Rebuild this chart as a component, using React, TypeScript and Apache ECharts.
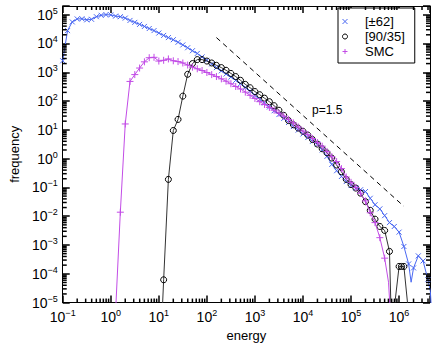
import React, { useEffect, useRef } from 'react';
import * as echarts from 'echarts';

// ---------- data ----------
const seriesNames = ['[±62]', '[90/35]', 'SMC'];

const blueEnergy = [
  0.1, 0.126, 0.158, 0.2, 0.251, 0.316, 0.398, 0.501, 0.631, 0.794,
  1, 1.26, 1.58, 2, 2.51, 3.16, 3.98, 5.01, 6.31, 7.94,
  10, 12.6, 15.8, 20, 25.1, 31.6, 39.8, 50.1, 63.1, 79.4,
  100, 126, 158, 200, 251, 316, 398, 501, 631, 794,
  1e3, 1.26e3, 1.58e3, 2e3, 2.51e3, 3.16e3, 3.98e3, 5.01e3, 6.31e3, 7.94e3,
  1e4, 1.26e4, 1.58e4, 2e4, 2.51e4, 3.16e4, 3.98e4, 5.01e4, 6.31e4, 7.94e4,
  1e5, 1.26e5, 1.58e5, 2e5, 2.51e5, 3.16e5, 3.98e5, 5.01e5, 6.31e5, 7.94e5,
  1e6, 1.26e6, 1.58e6, 1.78e6, 2e6, 2.51e6, 3.16e6, 3.98e6, 4.47e6, 5.01e6,
];
const blueFreq = [
  2.5e3, 2.8e4, 5.6e4, 7.1e4, 7.2e4, 6.6e4, 6.9e4, 8.5e4, 9.5e4, 1.0e5,
  9.8e4, 8.9e4, 8.5e4, 7.6e4, 6.3e4, 5.4e4, 4.6e4, 3.9e4, 3.3e4, 2.8e4,
  2.3e4, 1.9e4, 1.6e4, 1.35e4, 1.1e4, 8.9e3, 7.1e3, 5.6e3, 4.5e3, 3.4e3,
  2.6e3, 1.95e3, 1.45e3, 1.12e3, 870, 680, 525, 400, 295, 220,
  158, 115, 85, 62, 46, 34, 25, 18, 13, 9.8,
  7.2, 5.4, 4.0, 3.2, 2.0, 1.2, 0.63, 0.38, 0.24, 0.16,
  0.117, 0.095, 0.083, 0.072, 0.042, 0.025, 0.018, 0.0105, 0.006, 0.0044,
  0.0028, 8.9e-4, 2.2e-4, 5.1e-5, 1.6e-4, 4.2e-4, 2.8e-4, 6.3e-5, 2.5e-5, 1e-6,
];
const blueUnmarked = [1.78e6, 4.47e6, 5.01e6];

const blackEnergy = [
  10, 12.6, 15.8, 20, 25.1, 31.6, 39.8, 50.1, 63.1, 79.4,
  100, 126, 158, 200, 251, 316, 398, 501, 631, 794,
  1e3, 1.26e3, 1.58e3, 2e3, 2.51e3, 3.16e3, 3.98e3, 5.01e3, 6.31e3, 7.94e3,
  1e4, 1.26e4, 1.58e4, 2e4, 2.51e4, 3.16e4, 3.98e4, 5.01e4, 6.31e4, 7.94e4,
  1e5, 1.26e5, 1.58e5, 2e5, 2.51e5, 3.16e5, 3.98e5, 5.01e5, 6.31e5,
  7.24e5, 8.13e5, 1e6, 1.12e6, 1.26e6, 1.58e6,
];
const blackFreq = [
  1e-8, 6.2e-5, 0.19, 9.5, 23, 148, 850, 2.0e3, 2.75e3, 2.75e3,
  2.45e3, 2.1e3, 1.74e3, 1.45e3, 1.17e3, 910, 710, 525, 380, 290,
  214, 166, 126, 95, 69, 48, 32, 21, 15, 11.5,
  8.9, 6.6, 4.6, 3.2, 2.2, 1.58, 1.05, 0.6, 0.35, 0.19,
  0.126, 0.095, 0.063, 0.032, 0.016, 0.0079, 0.0044, 0.0032, 6e-4,
  1e-7, 8.9e-6, 1.8e-4, 1.8e-4, 1.8e-4, 4e-6,
];
const blackUnmarked = [10, 7.24e5, 8.13e5, 1.58e6];

const smcEnergy = [
  1.26, 1.58, 2, 2.51, 3.16, 3.98, 5.01, 6.31, 7.94,
  10, 12.6, 15.8, 20, 25.1, 31.6, 39.8, 50.1, 63.1, 79.4,
  100, 126, 158, 200, 251, 316, 398, 501, 631, 794,
  1e3, 1.26e3, 1.58e3, 2e3, 2.51e3, 3.16e3, 3.98e3, 5.01e3, 6.31e3, 7.94e3,
  1e4, 1.26e4, 1.58e4, 2e4, 2.51e4, 3.16e4, 3.98e4, 5.01e4, 6.31e4, 7.94e4,
  1e5, 1.26e5, 1.58e5, 2e5, 2.51e5, 3.16e5, 3.98e5, 5.01e5,
  6.03e5, 6.92e5,
];
const smcFreq = [
  5e-6, 0.0138, 16, 480, 830, 1.4e3, 2.3e3, 3.2e3, 3.3e3,
  2.45e3, 2.6e3, 2.9e3, 2.5e3, 2.35e3, 2.1e3, 1.78e3, 1.5e3, 1.32e3, 1.15e3,
  980, 830, 710, 590, 490, 400, 320, 263, 204, 158,
  123, 95, 76, 60, 48, 38, 30, 23, 17.4, 12.6,
  9.1, 6.8, 5.0, 3.6, 2.7, 1.78, 1.17, 0.79, 0.45, 0.23,
  0.15, 0.1, 0.063, 0.034, 0.0132, 0.006, 0.0018, 3.5e-4,
  5.1e-5, 1e-6,
];
const smcUnmarked = [1.26, 6.03e5, 6.92e5];

// power-law guide p = 1.5
const guideEnergy = [158, 1.26e6];
const guideFreq = [1.6e4, 0.022];

const xDecades = [-1, 0, 1, 2, 3, 4, 5, 6];
const yDecades = [-5, -4, -3, -2, -1, 0, 1, 2, 3, 4, 5];
const X_MIN = 0.1, X_MAX = 4.4e6, Y_MIN = 1e-5, Y_MAX = 2e5;

// ---------- styling ----------
const FONT = '"Liberation Sans", Arial, Helvetica, sans-serif';
const BLUE = '#4a68f2';
const MAGENTA = '#c24ce6';
const BLACK = '#000000';
const TICK = '#000';
const X_PATH = 'path://M0,0L10,10M10,0L0,10';
const PLUS_PATH = 'path://M5,0L5,10M0,5L10,5';

function expLabel(v: number) {
  const l = Math.log10(v);
  const e = Math.round(l);
  if (Math.abs(l - e) > 1e-6) return '';
  const s = e < 0 ? '\u2212' + -e : String(e);
  return `{b|10}{s|${s}}`;
}
const rich = {
  b: { fontSize: 14, fontFamily: FONT, color: '#000' },
  s: { fontSize: 9, fontFamily: FONT, color: '#000', padding: [0, 0, 8, 0] },
};

function pairs(xs: number[], ys: number[], unmarked: number[]) {
  return xs.map((x, i) =>
    unmarked.indexOf(x) >= 0 ? { value: [x, ys[i]], symbol: 'none' } : { value: [x, ys[i]] }
  );
}

function minorTicks(decades: number[], lo: number, hi: number) {
  const out: number[] = [];
  decades.forEach((d) => {
    for (let m = 2; m <= 9; m++) {
      const v = m * Math.pow(10, d);
      if (v > lo && v < hi) out.push(v);
    }
  });
  return out;
}

function xTickSeries(side: 'bottom' | 'top') {
  return {
    type: 'custom',
    z: 8,
    data: minorTicks(xDecades, X_MIN, X_MAX).map((v) => [v, 1]),
    renderItem: (params: any, api: any) => {
      const p = api.coord([api.value(0), api.value(1)]);
      const cs = params.coordSys;
      const y0 = side === 'bottom' ? cs.y + cs.height : cs.y;
      const y1 = side === 'bottom' ? y0 - 4 : y0 + 4;
      return { type: 'line', shape: { x1: p[0], y1: y0, x2: p[0], y2: y1 }, style: { stroke: TICK, lineWidth: 1.5 } };
    },
  };
}
function yTickSeries(side: 'left' | 'right') {
  return {
    type: 'custom',
    z: 8,
    data: minorTicks(yDecades, Y_MIN, Y_MAX).map((v) => [1, v]),
    renderItem: (params: any, api: any) => {
      const p = api.coord([api.value(0), api.value(1)]);
      const cs = params.coordSys;
      const x0 = side === 'left' ? cs.x : cs.x + cs.width;
      const x1 = side === 'left' ? x0 + 4 : x0 - 4;
      return { type: 'line', shape: { x1: x0, y1: p[1], x2: x1, y2: p[1] }, style: { stroke: TICK, lineWidth: 1.5 } };
    },
  };
}

export default function App() {
  const ref = useRef<HTMLDivElement>(null);
  useEffect(() => {
    if (!ref.current) return;
    const chart = echarts.init(ref.current, null, { renderer: 'svg' });
    const axisCommon = {
      type: 'log',
      logBase: 10,
      interval: 1,
      axisLine: { show: true, onZero: false, lineStyle: { color: '#000', width: 1 } },
      axisTick: { show: true, inside: true, length: 7, lineStyle: { color: TICK, width: 1.5 } },
      splitLine: { show: false },
    };

    const option: any = {
      animation: false,
      grid: { left: 46, right: 6, top: 6, bottom: 38 },
      xAxis: [
        {
          ...axisCommon,
          min: X_MIN,
          max: X_MAX,
          position: 'bottom',
          name: 'energy',
          nameLocation: 'middle',
          nameGap: 24,
          nameTextStyle: { fontSize: 13, fontFamily: FONT, color: '#000' },
          axisLabel: { formatter: expLabel, rich, margin: 6 },
        },
        { ...axisCommon, min: X_MIN, max: X_MAX, position: 'top', axisLabel: { show: false } },
      ],
      yAxis: [
        {
          ...axisCommon,
          min: Y_MIN,
          max: Y_MAX,
          position: 'left',
          name: 'frequency',
          nameLocation: 'middle',
          nameGap: 30,
          nameTextStyle: { fontSize: 13, fontFamily: FONT, color: '#000' },
          axisLabel: { formatter: expLabel, rich, margin: 5 },
        },
        { ...axisCommon, min: Y_MIN, max: Y_MAX, position: 'right', axisLabel: { show: false } },
      ],
      legend: {
        orient: 'vertical',
        left: 338,
        top: 8,
        itemWidth: 30,
        itemHeight: 5,
        itemGap: 0,
        padding: [6, 10, 4, 4],
        borderColor: '#000',
        borderWidth: 1,
        borderRadius: 0,
        backgroundColor: '#fff',
        selectedMode: false,
        textStyle: { fontSize: 13, fontFamily: FONT, color: '#000', lineHeight: 15 },
        data: [
          { name: seriesNames[0], icon: X_PATH, itemStyle: { color: 'transparent', borderColor: BLUE, borderWidth: 1 } },
          { name: seriesNames[1], icon: 'circle', itemStyle: { color: 'transparent', borderColor: BLACK, borderWidth: 1 } },
          { name: seriesNames[2], icon: PLUS_PATH, itemStyle: { color: 'transparent', borderColor: MAGENTA, borderWidth: 1 } },
        ],
      },
      graphic: [
        {
          type: 'text',
          left: 312,
          top: 104,
          style: { text: 'p=1.5', fontSize: 12, fontFamily: FONT, fill: '#000' },
        },
      ],
      series: [
        {
          name: seriesNames[0],
          type: 'line',
          data: pairs(blueEnergy, blueFreq, blueUnmarked),
          symbol: X_PATH,
          symbolSize: 5,
          lineStyle: { color: BLUE, width: 1 },
          itemStyle: { color: 'transparent', borderColor: BLUE, borderWidth: 1 },
          z: 2,
        },
        {
          name: seriesNames[1],
          type: 'line',
          data: pairs(blackEnergy, blackFreq, blackUnmarked),
          symbol: 'circle',
          symbolSize: 6,
          lineStyle: { color: '#333', width: 1 },
          itemStyle: { color: 'transparent', borderColor: BLACK, borderWidth: 1 },
          z: 3,
        },
        {
          name: seriesNames[2],
          type: 'line',
          data: pairs(smcEnergy, smcFreq, smcUnmarked),
          symbol: PLUS_PATH,
          symbolSize: 7,
          lineStyle: { color: MAGENTA, width: 1 },
          itemStyle: { color: 'transparent', borderColor: MAGENTA, borderWidth: 1 },
          z: 4,
        },
        {
          name: 'p=1.5',
          type: 'line',
          data: guideEnergy.map((x, i) => [x, guideFreq[i]]),
          symbol: 'none',
          lineStyle: { color: '#000', width: 1, type: [5, 4] },
          z: 5,
        },
        xTickSeries('bottom'),
        xTickSeries('top'),
        yTickSeries('left'),
        yTickSeries('right'),
      ],
    };
    chart.setOption(option);
    return () => chart.dispose();
  }, []);
  return (
    <div
      ref={ref}
      style={{ position: 'fixed', left: 0, top: 0, width: 436, height: 347, background: '#fff' }}
    />
  );
}
